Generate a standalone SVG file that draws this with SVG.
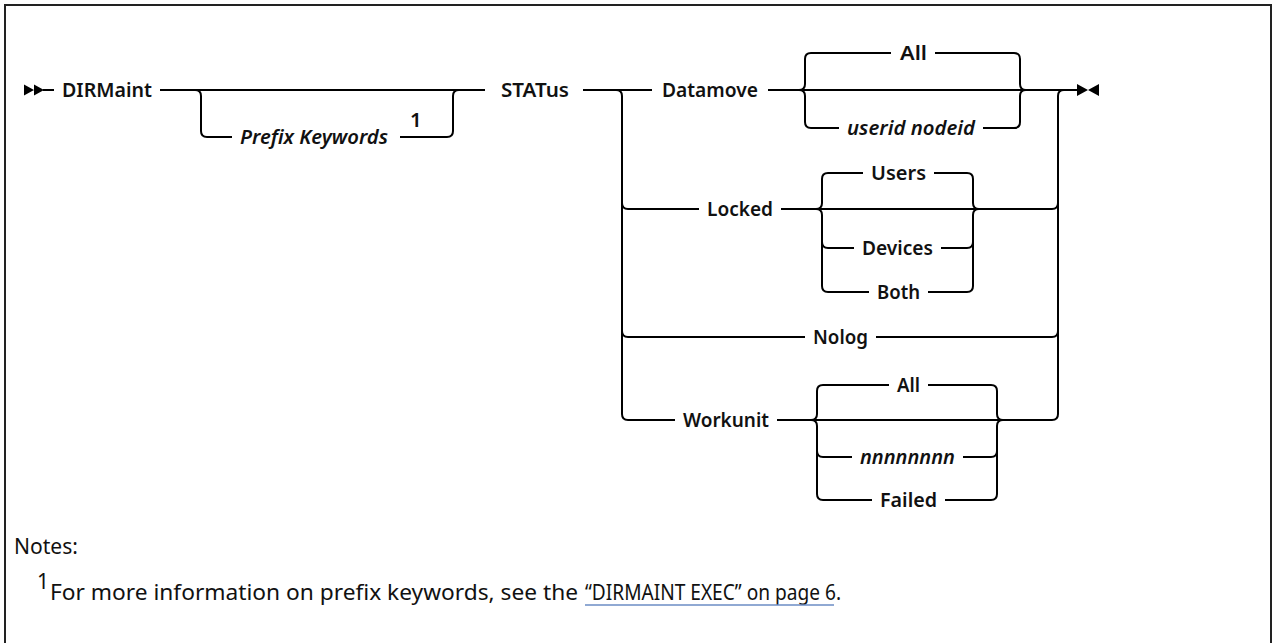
<svg xmlns="http://www.w3.org/2000/svg" width="1273" height="643" viewBox="0 0 1273 643">
<style>
.ln{fill:none;stroke:#000;stroke-width:2}
.lb{font-family:"Noto Sans","Liberation Sans",sans-serif;font-size:20.5px;font-weight:600;fill:#111}
.it{font-style:italic}
.nt{font-family:"Noto Sans","Liberation Sans",sans-serif;font-size:21px;fill:#111}
.ar{fill:#000}
</style>
<rect x="0" y="0" width="1273" height="643" fill="#fff"/>
<path d="M5 650 V5 H1271 V650" fill="none" stroke="#222" stroke-width="2"/>
<g id="connectors">
<path class="ln" d="M43 90 H54"/>
<path class="ln" d="M160 90 H485"/>
<path class="ln" d="M195 90 Q201 90 201 96 V131 Q201 137 207 137 H232"/>
<path class="ln" d="M400 137 H447 Q453 137 453 131 V96 Q453 90 459 90"/>
<path class="ln" d="M583 90 H652"/>
<path class="ln" d="M616 90 Q622 90 622 96 V414 Q622 420 628 420 H675"/>
<path class="ln" d="M622 203 Q622 209 628 209 H699"/>
<path class="ln" d="M622 331 Q622 337 628 337 H805"/>
<path class="ln" d="M768 90 H1077"/>
<path class="ln" d="M799 90 Q805 90 805 84 V59 Q805 53 811 53 H891"/>
<path class="ln" d="M935 53 H1014 Q1020 53 1020 59 V84 Q1020 90 1026 90"/>
<path class="ln" d="M799 90 Q805 90 805 96 V122 Q805 128 811 128 H839"/>
<path class="ln" d="M983 128 H1014 Q1020 128 1020 122 V96 Q1020 90 1026 90"/>
<path class="ln" d="M1058 414 V96 Q1058 90 1064 90"/>
<path class="ln" d="M781 209 H1052 Q1058 209 1058 203"/>
<path class="ln" d="M816 209 Q822 209 822 203 V179 Q822 173 828 173 H863"/>
<path class="ln" d="M934 173 H967 Q973 173 973 179 V203 Q973 209 979 209"/>
<path class="ln" d="M816 209 Q822 209 822 215 V286 Q822 292 828 292 H869"/>
<path class="ln" d="M822 242 Q822 248 828 248 H854"/>
<path class="ln" d="M941 248 H967 Q973 248 973 242"/>
<path class="ln" d="M928 292 H967 Q973 292 973 286 V215 Q973 209 979 209"/>
<path class="ln" d="M876 337 H1052 Q1058 337 1058 331"/>
<path class="ln" d="M777 420 H1052 Q1058 420 1058 414"/>
<path class="ln" d="M811 420 Q817 420 817 414 V391 Q817 385 823 385 H889"/>
<path class="ln" d="M928 385 H991 Q997 385 997 391 V414 Q997 420 1003 420"/>
<path class="ln" d="M811 420 Q817 420 817 426 V494 Q817 500 823 500 H872"/>
<path class="ln" d="M817 451 Q817 457 823 457 H852"/>
<path class="ln" d="M963 457 H991 Q997 457 997 451"/>
<path class="ln" d="M945 500 H991 Q997 500 997 494 V426 Q997 420 1003 420"/>
<path class="ar" d="M24 84.5 L34 90 L24 95.5 Z M34 84.5 L44 90 L34 95.5 Z"/>
<path class="ar" d="M1077 84 L1088 90 L1077 96 Z M1099 84 L1088 90 L1099 96 Z"/>
</g>
<g id="n-dirmaint"><text class="lb" x="62" y="97" textLength="90" lengthAdjust="spacingAndGlyphs">DIRMaint</text></g>
<g id="n-prefix"><text class="lb it" x="240" y="144" textLength="148" lengthAdjust="spacingAndGlyphs">Prefix Keywords</text><text class="lb" x="410" y="127" font-size="18" font-weight="500">1</text></g>
<g id="n-status"><text class="lb" x="501" y="97" textLength="68" lengthAdjust="spacingAndGlyphs">STATus</text></g>
<g id="n-datamove"><text class="lb" x="662" y="97" textLength="96" lengthAdjust="spacingAndGlyphs">Datamove</text></g>
<g id="n-all1"><text class="lb" x="900" y="60" textLength="27" lengthAdjust="spacingAndGlyphs">All</text></g>
<g id="n-userid"><text class="lb it" x="847" y="135" textLength="128" lengthAdjust="spacingAndGlyphs">userid nodeid</text></g>
<g id="n-locked"><text class="lb" x="707" y="216" textLength="66" lengthAdjust="spacingAndGlyphs">Locked</text></g>
<g id="n-users"><text class="lb" x="871" y="180" textLength="55" lengthAdjust="spacingAndGlyphs">Users</text></g>
<g id="n-devices"><text class="lb" x="862" y="255" textLength="71" lengthAdjust="spacingAndGlyphs">Devices</text></g>
<g id="n-both"><text class="lb" x="877" y="299" textLength="43" lengthAdjust="spacingAndGlyphs">Both</text></g>
<g id="n-nolog"><text class="lb" x="813" y="344" textLength="55" lengthAdjust="spacingAndGlyphs">Nolog</text></g>
<g id="n-workunit"><text class="lb" x="683" y="427" textLength="86" lengthAdjust="spacingAndGlyphs">Workunit</text></g>
<g id="n-all2"><text class="lb" x="897" y="392" textLength="23" lengthAdjust="spacingAndGlyphs">All</text></g>
<g id="n-nnn"><text class="lb it" x="860" y="464" textLength="95" lengthAdjust="spacingAndGlyphs">nnnnnnnn</text></g>
<g id="n-failed"><text class="lb" x="880" y="507" textLength="57" lengthAdjust="spacingAndGlyphs">Failed</text></g>
<g id="notes">
<text class="nt" x="14" y="554" textLength="64" lengthAdjust="spacingAndGlyphs">Notes:</text>
<text class="nt" x="37" y="589" font-size="15">1</text>
<text class="nt" x="50" y="600" textLength="528" lengthAdjust="spacingAndGlyphs">For more information on prefix keywords, see the</text>
<text class="nt" x="585" y="600" textLength="256" lengthAdjust="spacingAndGlyphs">“DIRMAINT EXEC” on page 6.</text>
<path d="M585 605 H834" stroke="#6b8cc4" stroke-width="1.5"/>
</g>
</svg>
